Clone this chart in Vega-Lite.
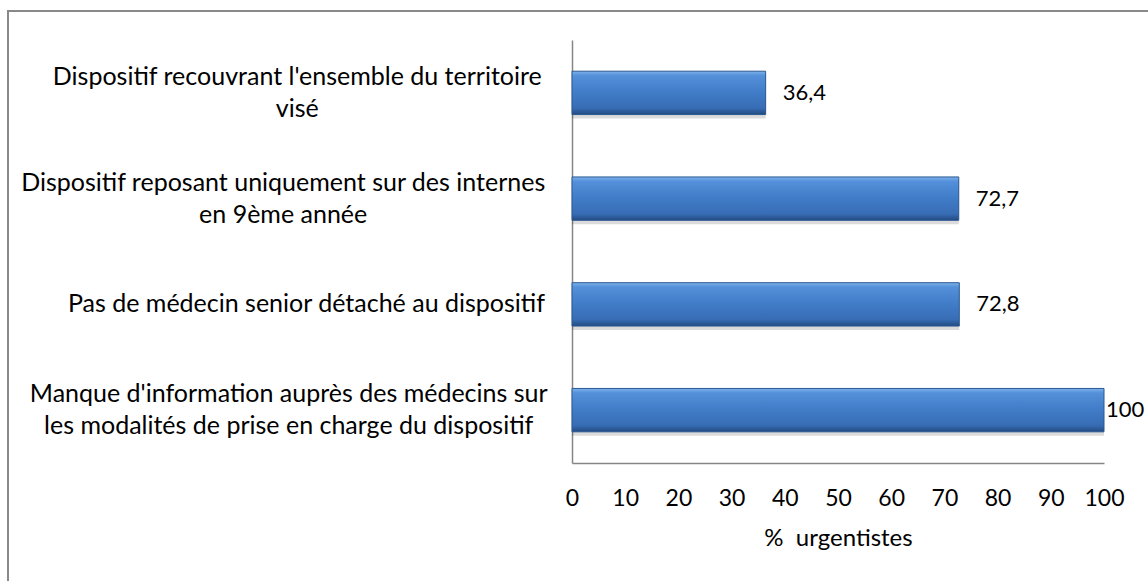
{
  "$schema": "https://vega.github.io/schema/vega-lite/v6.json",
  "width": 1160,
  "height": 600,
  "autosize": {"type": "none"},
  "padding": {"left": 8, "top": 11, "right": 0, "bottom": 0},
  "background": "white",
  "config": {
    "view": {"stroke": "#898989", "strokeWidth": 2},
    "font": "Lato",
    "axis": {"grid": false, "ticks": false, "domainColor": "#868686", "domainWidth": 1.5, "labelColor": "#000000", "titleColor": "#000000", "labelFont": "Lato", "titleFont": "Lato", "titleFontWeight": "normal"}
  },
  "data": {
    "values": [
      {"cause": "A", "lines": ["Dispositif recouvrant l'ensemble du territoire", "visé"], "pct": 36.4, "label": "36,4"},
      {"cause": "B", "lines": ["Dispositif reposant uniquement sur des internes", "en 9ème année"], "pct": 72.7, "label": "72,7"},
      {"cause": "C", "lines": ["Pas de médecin senior détaché au dispositif"], "pct": 72.8, "label": "72,8"},
      {"cause": "D", "lines": ["Manque d'information auprès des médecins sur", "les modalités de prise en charge du dispositif"], "pct": 100, "label": "100"}
    ]
  },
  "encoding": {
    "y": {
      "field": "cause",
      "type": "nominal",
      "sort": null,
      "scale": {"range": [29, 452], "paddingInner": 0.59, "paddingOuter": 0.295},
      "axis": {"title": null, "labels": false, "offset": -564}
    }
  },
  "layer": [
    {
      "mark": {"type": "bar", "yOffset": 4, "color": "#000000", "opacity": 0.14},
      "encoding": {
        "x": {"field": "pct", "type": "quantitative"}
      }
    },
    {
      "mark": {
        "type": "bar",
        "stroke": "#2a5891",
        "strokeWidth": 1,
        "fill": {
          "gradient": "linear", "x1": 0, "y1": 0, "x2": 0, "y2": 1,
          "stops": [
            {"offset": 0, "color": "#7db2ec"},
            {"offset": 0.1, "color": "#5591da"},
            {"offset": 0.45, "color": "#427ec9"},
            {"offset": 0.85, "color": "#376db5"},
            {"offset": 1, "color": "#234a80"}
          ]
        }
      },
      "encoding": {
        "x": {
          "field": "pct",
          "type": "quantitative",
          "scale": {"domain": [0, 100], "nice": false, "range": [564, 1096]},
          "axis": {"title": "% \u00a0urgentistes", "offset": -148, "values": [0, 10, 20, 30, 40, 50, 60, 70, 80, 90, 100], "labelFontSize": 23, "labelPadding": 24, "titleFontSize": 24, "titlePadding": 16, "labelFlush": false}
        }
      }
    },
    {
      "mark": {"type": "text", "align": "center", "baseline": "middle", "fontSize": 25, "lineHeight": 32, "color": "#000000",
        "dx": {"expr": "-27 - (13.49*length(replace(datum.lines[0], regexp(\"[iltfj' ]\", 'g'), '')) + 6.13*(length(datum.lines[0]) - length(replace(datum.lines[0], regexp(\"[iltfj' ]\", 'g'), ''))))/2"},
        "dy": {"expr": "-(length(datum.lines)-1)*16"}},
      "encoding": {
        "x": {"datum": 0, "type": "quantitative"},
        "text": {"field": "lines"}
      }
    },
    {
      "transform": [{"filter": "datum.pct < 100"}],
      "mark": {"type": "text", "align": "left", "baseline": "middle", "dx": 17, "fontSize": 22, "color": "#000000"},
      "encoding": {
        "x": {"field": "pct", "type": "quantitative"},
        "text": {"field": "label"}
      }
    },
    {
      "transform": [{"filter": "datum.pct >= 100"}],
      "mark": {"type": "text", "align": "left", "baseline": "middle", "dx": 2, "fontSize": 22, "color": "#000000"},
      "encoding": {
        "x": {"field": "pct", "type": "quantitative"},
        "text": {"field": "label"}
      }
    }
  ]
}
